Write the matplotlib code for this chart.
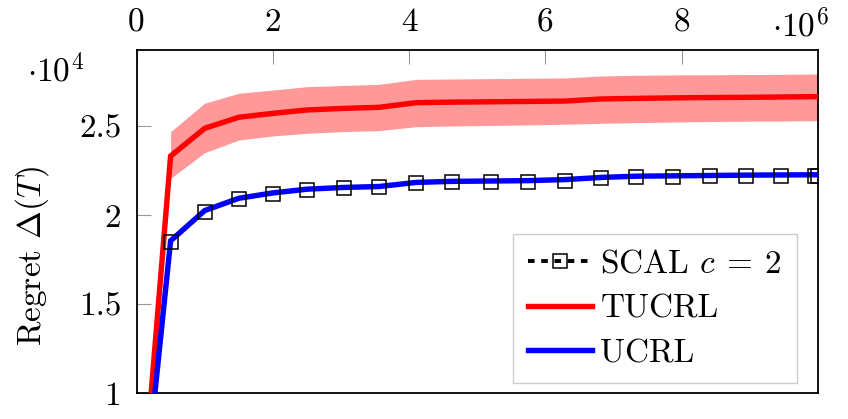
import matplotlib
matplotlib.use("Agg")
import matplotlib.pyplot as plt
from matplotlib.lines import Line2D
import numpy as np

plt.rcParams['font.family'] = 'cmr10'
plt.rcParams['mathtext.fontset'] = 'cm'
plt.rcParams['axes.unicode_minus'] = False
plt.rcParams['axes.formatter.use_mathtext'] = True

# ---- data (T in steps, regret values) ----
T = [0, 0.5e6, 1.0e6, 1.5e6, 2.0e6, 2.5e6, 3.05e6, 3.56e6, 4.1e6, 4.63e6, 5.2e6,
     5.74e6, 6.29e6, 6.82e6, 7.33e6, 7.87e6, 8.41e6, 8.95e6, 9.46e6, 9.96e6, 10.0e6]
scal = [0, 1.850, 2.019, 2.088, 2.118, 2.140, 2.150, 2.155, 2.178, 2.184, 2.185,
        2.187, 2.193, 2.206, 2.213, 2.215, 2.217, 2.219, 2.221, 2.221, 2.221]
ucrl = [0, 1.855, 2.025, 2.094, 2.124, 2.145, 2.155, 2.160, 2.183, 2.189, 2.191,
        2.193, 2.199, 2.211, 2.218, 2.220, 2.222, 2.224, 2.225, 2.226, 2.226]
tucrl = [0, 2.331, 2.487, 2.549, 2.571, 2.590, 2.599, 2.605, 2.631, 2.634, 2.636,
         2.638, 2.640, 2.652, 2.655, 2.658, 2.660, 2.661, 2.663, 2.665, 2.665]
tucrl_hi = [0, 2.468, 2.628, 2.684, 2.702, 2.721, 2.728, 2.734, 2.762, 2.764, 2.766,
            2.768, 2.770, 2.781, 2.785, 2.787, 2.788, 2.789, 2.790, 2.792, 2.792]
tucrl_lo = [0, 2.206, 2.350, 2.421, 2.444, 2.459, 2.469, 2.474, 2.496, 2.500, 2.503,
            2.506, 2.510, 2.515, 2.519, 2.522, 2.525, 2.527, 2.528, 2.530, 2.530]
scale = 1e4
xticks = [0, 2e6, 4e6, 6e6, 8e6]
xticklabels = ['0', '2', '4', '6', '8']
yticks = [1e4, 1.5e4, 2e4, 2.5e4]
yticklabels = ['1', '1.5', '2', '2.5']

T = np.array(T)
scal = np.array(scal) * scale
ucrl = np.array(ucrl) * scale
tucrl = np.array(tucrl) * scale
tucrl_hi = np.array(tucrl_hi) * scale
tucrl_lo = np.array(tucrl_lo) * scale

fig = plt.figure(figsize=(8.48, 4.19), dpi=100)
ax = fig.add_axes([0.161, 0.062, 0.8036, 0.8187])

FS = 24
LW = 3.9
ax.fill_between(T[1:], tucrl_lo[1:], tucrl_hi[1:], color='red', alpha=0.4, lw=0, zorder=1)
ax.plot(T, scal, color='black', lw=1.3, ls=(0, (3, 3)), zorder=2)
ax.plot(T, tucrl, color='red', lw=LW, zorder=3, solid_joinstyle='miter')
ax.plot(T, ucrl, color='blue', lw=LW, zorder=3, solid_joinstyle='miter')
ax.plot(T[1:], scal[1:], ls='none', marker='s', ms=10.5, mfc='none', mec='black',
        mew=1.1, zorder=4)

ax.set_xlim(0, 10e6)
ax.set_ylim(1e4, 2.927e4)

ax.xaxis.tick_top()
ax.set_xticks(xticks)
ax.set_xticklabels(xticklabels, fontsize=FS)
ax.set_yticks(yticks)
ax.set_yticklabels(yticklabels, fontsize=FS)
ax.tick_params(axis='x', direction='in', length=10, width=0.8, color='#999999', pad=9,
               top=True, bottom=False)
ax.tick_params(axis='y', direction='in', length=10, width=0.8, color='#999999', pad=11,
               left=True, right=False)
for s in ax.spines.values():
    s.set_linewidth(1.3)

fig.text(56 / 848, 1 - 70 / 419, r'$\cdot 10^4$', fontsize=FS, ha='center', va='center')
fig.text(772 / 848, 1 - 25 / 419, r'$\cdot 10^6$', fontsize=FS, ha='left', va='center')
fig.text(32 / 848, 1 - 256 / 419, r'Regret $\Delta(T)$', fontsize=FS, rotation=90,
         ha='center', va='center')

handles = [
    Line2D([], [], color='black', lw=2.8, ls=(0, (1.7, 1.7)), marker='s', ms=10.5,
           mfc='none', mec='black', mew=1.1),
    Line2D([], [], color='red', lw=LW),
    Line2D([], [], color='blue', lw=LW),
]
labels = [r'SCAL $c\:=\:2$', 'TUCRL', 'UCRL']
leg = ax.legend(handles, labels, loc='lower right', bbox_to_anchor=(0.969, 0.029),
                borderaxespad=0, fontsize=FS, frameon=True, fancybox=False,
                edgecolor='#cccccc', handlelength=1.92, handletextpad=0.26,
                borderpad=0.45, labelspacing=0.46, markerfirst=True)
leg.get_frame().set_linewidth(1.0)
leg.get_frame().set_alpha(None)

fig.savefig('out.png', dpi=100)
